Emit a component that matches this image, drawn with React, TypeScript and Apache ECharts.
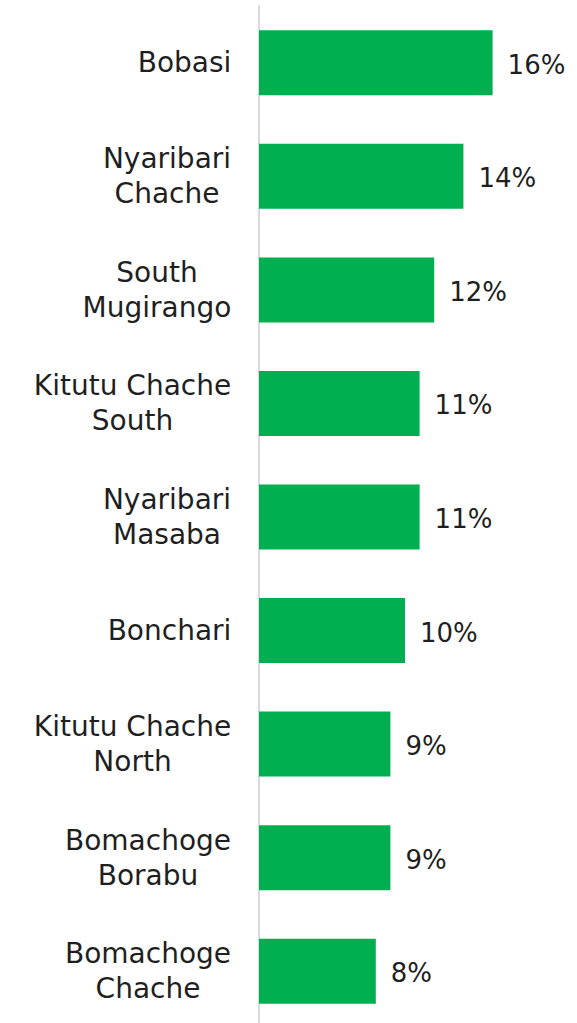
import React, { useEffect, useRef } from "react";
import * as echarts from "echarts";

const categories = [
  "Bobasi",
  "Nyaribari\nChache",
  "South\nMugirango",
  "Kitutu Chache\nSouth",
  "Nyaribari\nMasaba",
  "Bonchari",
  "Kitutu Chache\nNorth",
  "Bomachoge\nBorabu",
  "Bomachoge\nChache",
];
const values = [16, 14, 12, 11, 11, 10, 9, 9, 8];
const xMin = 0;
const xMax = 20;

const FONT = "'DejaVu Sans', sans-serif";
const LABEL_SIZE = 28;
const TEXT_COLOR = "#1f1f1f";

function measure(text: string, size: number): number {
  const c = document.createElement("canvas");
  const ctx = c.getContext("2d");
  if (!ctx) return text.length * size * 0.55;
  ctx.font = `${size}px ${FONT}`;
  return ctx.measureText(text).width;
}

export default function App() {
  const ref = useRef<HTMLDivElement>(null);
  useEffect(() => {
    if (!ref.current) return;
    const chart = echarts.init(ref.current, undefined, { renderer: "svg" });
    const rich: Record<string, any> = {};
    categories.forEach((cat, i) => {
      const w = Math.max(...cat.split("\n").map((l) => measure(l, LABEL_SIZE)));
      rich["l" + i] = {
        width: Math.ceil(w) + 1,
        align: "center",
        fontSize: LABEL_SIZE,
        lineHeight: 35,
        fontFamily: FONT,
        color: TEXT_COLOR,
      };
    });
    chart.setOption({
      animation: false,
      grid: { left: 259, top: 6, width: 292, height: 1022, containLabel: false },
      xAxis: {
        type: "value",
        min: xMin,
        max: xMax,
        show: false,
        splitLine: { show: false },
      },
      yAxis: {
        type: "category",
        inverse: true,
        data: categories,
        axisTick: { show: false },
        axisLine: { show: true, lineStyle: { color: "#d9d9d9", width: 2 } },
        axisLabel: {
          margin: 27,
          fontFamily: FONT,
          fontSize: LABEL_SIZE,
          lineHeight: 35,
          color: TEXT_COLOR,
          formatter: (v: string, idx: number) =>
            v
              .split("\n")
              .map((l) => `{l${idx}|${l}}`)
              .join("\n"),
          rich,
        },
      },
      series: [
        {
          type: "bar",
          data: values,
          barWidth: 65,
          itemStyle: { color: "#00b050" },
          label: {
            show: true,
            position: "right",
            distance: 15,
            formatter: (p: any) => `${p.value}%`,
            fontFamily: FONT,
            fontSize: 26,
            color: TEXT_COLOR,
            offset: [0, 2],
          },
        },
      ],
    });
    return () => chart.dispose();
  }, []);
  return (
    <div
      style={{
        position: "absolute",
        left: 0,
        top: 0,
        width: 577,
        height: 1023,
        overflow: "hidden",
        background: "#fff",
      }}
    >
      <div ref={ref} style={{ width: 577, height: 1040 }} />
    </div>
  );
}
